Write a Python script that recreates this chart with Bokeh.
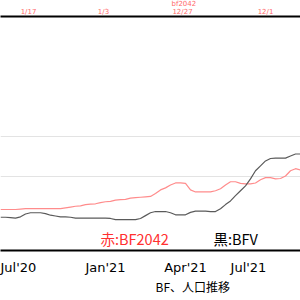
from bokeh.plotting import figure
from bokeh.models import Range1d, FixedTicker, LinearAxis, Label, Grid, Title
from bokeh.embed import file_html
from bokeh.resources import INLINE

# sample index (weekly-ish steps across the visible window)
step = list(range(61))

# BF2042 population (red), arbitrary units
bf2042 = [12.0, 12.0, 12.0, 12.0, 12.1, 12.2, 12.2, 12.2, 12.2, 12.2,
          12.2, 12.2, 12.2, 12.4, 12.6, 12.8, 12.9, 13.2, 13.3, 13.4,
          13.7, 13.9, 14.0, 14.3, 14.4, 14.5, 14.8, 14.9, 15.0, 15.1,
          15.2, 15.9, 16.8, 17.3, 18.0, 18.5, 18.5, 18.4, 16.8, 16.3,
          16.3, 16.3, 16.3, 16.6, 17.1, 18.0, 18.8, 18.8, 18.4, 18.3,
          18.3, 18.5, 19.3, 19.8, 19.8, 19.5, 19.6, 20.2, 21.5, 22.0, 21.7]

# BFV population (black)
bfv = [10.1, 10.1, 10.0, 9.9, 10.2, 10.9, 11.2, 11.2, 11.2, 11.0,
       10.6, 10.4, 10.2, 10.2, 10.1, 9.9, 9.9, 9.9, 9.9, 9.9,
       9.9, 9.9, 9.8, 9.5, 9.5, 9.5, 9.5, 9.5, 9.8, 10.5,
       11.2, 11.5, 11.5, 11.5, 11.2, 10.7, 10.7, 10.7, 11.3, 11.6,
       11.6, 11.6, 11.5, 11.5, 12.2, 13.2, 14.1, 15.4, 16.6, 17.8,
       19.5, 21.5, 22.7, 23.9, 24.5, 24.6, 24.6, 24.6, 25.1, 25.6, 25.6]

bottom_ticks = [2.4, 21.0, 37.0, 49.6]
bottom_labels = ["Jul'20", "Jan'21", "Apr'21", "Jul'21"]
top_ticks = [5.6, 20.6, 36.4, 53.0]
top_labels = ["1/17", "1/3", "12/27", "12/1"]
grid_values = [20, 30]

legend_red = "赤:BF2042"
legend_black = "黒:BFV"
chart_title = "BF、人口推移"
top_note = "bf2042"

p = figure(width=300, height=300, output_backend="svg", toolbar_location=None,
           x_range=Range1d(0, 60), y_range=Range1d(1.95, 59.3),
           y_axis_location=None, min_border=0, min_border_top=15,
           min_border_bottom=50)
p.outline_line_color = None
p.background_fill_color = "white"
p.border_fill_color = "white"
for g in p.grid:
    g.visible = False

p.add_layout(Grid(dimension=1, ticker=FixedTicker(ticks=grid_values),
                  grid_line_color="#e3e3e3", grid_line_width=1))

p.line(step, bf2042, line_color="#ff8c8c", line_width=1.2)
p.line(step, bfv, line_color="#5a5a5a", line_width=1.2)

xa = p.xaxis[0]
xa.ticker = FixedTicker(ticks=bottom_ticks)
xa.major_label_overrides = dict(zip(bottom_ticks, bottom_labels))
xa.major_tick_line_color = None
xa.minor_tick_line_color = None
xa.major_tick_out = 0
xa.major_tick_in = 0
xa.minor_tick_out = 0
xa.minor_tick_in = 0
xa.axis_line_color = "black"
xa.axis_line_width = 2
xa.major_label_text_font = "DejaVu Sans"
xa.major_label_text_font_size = "13px"
xa.major_label_text_color = "black"
xa.major_label_standoff = 9

ta = LinearAxis(ticker=FixedTicker(ticks=top_ticks),
                major_label_overrides=dict(zip(top_ticks, top_labels)),
                major_tick_line_color=None, minor_tick_line_color=None,
                major_tick_out=0, major_tick_in=0,
                minor_tick_out=0, minor_tick_in=0,
                axis_line_color="black", axis_line_width=2,
                major_label_text_font="DejaVu Sans",
                major_label_text_font_size="7px",
                major_label_text_color="#ff6a6a",
                major_label_standoff=1)
p.add_layout(ta, "above")

p.add_layout(Title(text=top_note, align="left", offset=171,
                   text_font="DejaVu Sans", text_font_size="7px",
                   text_font_style="normal", text_color="#ff6a6a",
                   standoff=-6), "above")

p.add_layout(Label(x=20, y=4.9, text=legend_red, text_baseline="middle",
                   text_font="Noto Sans CJK JP", text_font_size="14.5px",
                   text_color="#ff3030"))
p.add_layout(Label(x=42.6, y=4.9, text=legend_black, text_baseline="middle",
                   text_font="Noto Sans CJK JP", text_font_size="14.5px",
                   text_color="black"))

p.add_layout(Title(text=chart_title, align="left", offset=155,
                   text_font="Noto Sans CJK JP", text_font_size="12px",
                   text_font_style="normal", text_color="black",
                   standoff=-4), "below")

open("out.html", "w").write(file_html(p, INLINE))
